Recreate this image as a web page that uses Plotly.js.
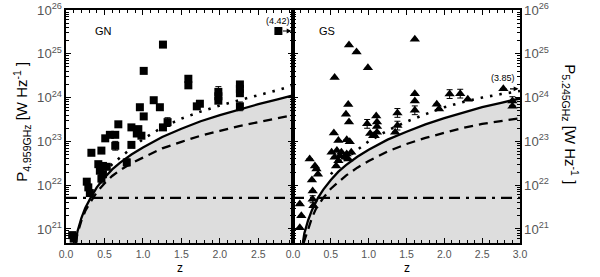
<!DOCTYPE html>
<html><head><meta charset="utf-8">
<script src="https://cdn.plot.ly/plotly-3.0.1.min.js"></script>
<style>html,body{margin:0;padding:0;background:#fff}</style>
</head><body>
<div id="chart" style="width:600px;height:277px"></div>
<script>
// ---- GN (left panel) : redshift z, log10 P [W/Hz], error (dex) ----
const gnZ   = [0.08,0.10,0.27,0.29,0.31,0.33,0.46,0.51,0.57,0.64,0.64,0.68,0.42,0.48,0.53,0.44,0.46,0.48,0.79,0.85,0.85,0.92,0.94,0.98,0.96,1.01,1.01,1.14,1.22,1.26,1.26,1.32,1.59,1.59,1.70,1.74,1.98,1.98,1.98,2.26,2.26,2.26,2.26,2.76];
const gnLog = [20.86,20.78,22.08,21.95,21.82,22.74,22.79,23.07,23.15,23.15,22.90,23.39,22.48,22.44,22.42,22.33,22.15,22.25,22.52,22.92,23.32,23.18,23.28,23.13,23.78,23.57,24.61,23.94,23.78,25.21,23.32,23.44,24.43,24.28,23.80,23.86,24.13,24.03,23.93,24.30,24.20,24.10,23.80,25.52];
const gnErr = [0,0,0,0,0,0,0,0,0,0,0.10,0,0,0,0,0,0.10,0,0.08,0,0,0,0,0,0,0,0,0,0,0,0,0.10,0,0,0,0,0.12,0,0,0,0,0,0.10,0];

// ---- GS (right panel) ----
const gsZ   = [1.61,0.74,0.84,0.99,0.55,2.78,0.73,0.70,0.74,1.61,1.61,1.61,1.38,1.38,1.10,0.98,1.11,1.11,1.11,1.08,1.90,1.93,2.07,2.21,2.31,2.90,2.90,0.54,0.60,0.71,0.75,0.51,0.58,0.64,0.71,0.55,0.62,0.69,0.77,0.60,0.73,0.57,0.22,0.29,0.31,0.33,0.25,0.26,0.26,0.27,0.09,0.11,0.09,1.02,1.06,1.35];
const gsLog = [25.33,25.20,25.04,24.68,24.46,24.20,23.84,23.62,23.44,24.09,23.92,23.71,23.65,23.36,23.58,23.40,23.44,23.34,23.21,23.13,23.85,23.74,24.08,24.09,23.96,23.92,23.80,23.19,23.02,23.04,22.99,22.75,22.79,22.75,22.71,22.64,22.67,22.64,22.75,22.56,22.60,22.44,22.60,22.44,22.37,22.25,22.12,21.87,21.68,21.53,21.57,21.30,21.03,23.18,23.13,23.21];
const gsErr = [0,0,0,0,0,0,0,0,0,0,0,0.10,0.10,0.10,0,0.10,0,0,0,0,0,0,0.10,0.10,0,0.10,0,0,0,0,0,0,0,0,0,0,0,0,0,0,0,0,0,0,0,0,0,0,0.08,0,0,0,0,0,0,0];

// ---- limit curves ----
const solidGNz   = [0.12,0.15,0.2,0.25,0.32,0.4,0.5,0.6,0.7,0.85,1.0,1.25,1.5,1.75,2.0,2.25,2.5,2.75,2.95];
const solidGNlog = [20.68,20.95,21.25,21.48,21.71,21.95,22.17,22.36,22.51,22.70,22.86,23.10,23.29,23.46,23.60,23.73,23.85,23.96,24.05];
const dashGNz    = [0.125,0.15,0.2,0.25,0.32,0.4,0.5,0.6,0.7,0.85,1.0,1.25,1.5,1.75,2.0,2.25,2.5,2.75,2.95];
const dashGNlog  = [20.68,20.90,21.19,21.41,21.62,21.84,22.04,22.21,22.34,22.50,22.63,22.84,22.99,23.13,23.24,23.35,23.44,23.53,23.60];
const dotGNz     = [0.5,0.6,0.75,1.0,1.25,1.5,1.75,2.0,2.25,2.5,2.75,2.95];
const dotGNlog   = [22.28,22.48,22.70,23.05,23.32,23.52,23.68,23.82,23.94,24.05,24.17,24.28];

const solidGSz   = [0.13,0.15,0.2,0.25,0.33,0.4,0.5,0.6,0.7,0.85,1.0,1.25,1.5,1.75,2.0,2.25,2.5,2.75,3.0];
const solidGSlog = [20.68,20.90,21.20,21.43,21.71,21.90,22.12,22.31,22.46,22.65,22.81,23.04,23.22,23.39,23.53,23.66,23.78,23.88,23.98];
const dashGSz    = [0.14,0.2,0.25,0.3,0.4,0.5,0.6,0.7,0.85,1.0,1.25,1.5,1.75,2.0,2.25,2.5,2.75,3.0];
const dashGSlog  = [20.68,21.00,21.25,21.45,21.71,21.92,22.08,22.22,22.40,22.55,22.77,22.94,23.08,23.20,23.31,23.40,23.47,23.53];
const dotGSz     = [0.5,0.6,0.75,1.0,1.25,1.5,1.75,2.0,2.25,2.5,2.75,3.0];
const dotGSlog   = [22.25,22.45,22.68,23.00,23.25,23.45,23.62,23.78,23.90,24.00,24.08,24.15];

const dashDotLog = 21.71;   // horizontal limit
const yRange = [20.68, 26];
const xRangeGN = [0, 2.95];
const xRangeGS = [0, 3.0];
const farZ = {GN: '(4.42)', GS: '(3.85)'};

const P = a => a.map(v => Math.pow(10, v));
const errUp = (l, e) => l.map((v, i) => Math.pow(10, v) * (Math.pow(10, e[i]) - 1));
const errDn = (l, e) => l.map((v, i) => Math.pow(10, v) * (1 - Math.pow(10, -e[i])));

function panel(xa, ya, sZ, sL, dZ, dL, oZ, oL, xr, mZ, mL, mE, sym) {
  const base = Math.pow(10, yRange[0] - 1);
  return [
    {x: [sZ[0], xr[1]], y: [base, base], xaxis: xa, yaxis: ya, mode: 'lines',
     line: {width: 0, color: 'rgba(0,0,0,0)'}, hoverinfo: 'skip', showlegend: false},
    {x: sZ, y: P(sL), xaxis: xa, yaxis: ya, mode: 'lines', fill: 'tonexty',
     fillcolor: '#dddddd', line: {color: '#000', width: 2.3}, showlegend: false},
    {x: dZ, y: P(dL), xaxis: xa, yaxis: ya, mode: 'lines',
     line: {color: '#000', width: 2.3, dash: '9px,6px'}, showlegend: false},
    {x: oZ, y: P(oL), xaxis: xa, yaxis: ya, mode: 'lines',
     line: {color: '#000', width: 2.6, dash: '2.5px,7px'}, showlegend: false},
    {x: [xr[0], xr[1]], y: P([dashDotLog, dashDotLog]), xaxis: xa, yaxis: ya, mode: 'lines',
     line: {color: '#000', width: 2.3, dash: '11px,6px,3px,6px'}, showlegend: false},
    {x: mZ, y: P(mL), xaxis: xa, yaxis: ya, mode: 'markers',
     marker: {symbol: sym, size: sym === 'square' ? 8 : 9, color: '#000', line: {width: 0}},
     error_y: {type: 'data', symmetric: false, array: errUp(mL, mE), arrayminus: errDn(mL, mE),
               color: '#000', thickness: 1, width: 3},
     showlegend: false}
  ];
}

const data = [
  ...panel('x', 'y', solidGNz, solidGNlog, dashGNz, dashGNlog, dotGNz, dotGNlog, xRangeGN, gnZ, gnLog, gnErr, 'square'),
  ...panel('x2', 'y2', solidGSz, solidGSlog, dashGSz, dashGSlog, dotGSz, dotGSlog, xRangeGS, gsZ, gsLog, gsErr, 'triangle-up')
];

const tickFont = {family: 'Liberation Sans, Arial, sans-serif', size: 10.5, color: '#555'};
const xCommon = {
  showgrid: false, zeroline: false, showline: true, linecolor: '#000', linewidth: 2, mirror: 'ticks',
  ticks: 'inside', ticklen: 5, tickwidth: 1, tickcolor: '#000', dtick: 0.5, tick0: 0,
  tickformat: '.1f', tickfont: tickFont,
  minor: {ticks: 'inside', ticklen: 3, tickwidth: 1, tickcolor: '#000', dtick: 0.1, showgrid: false}
};
const yCommon = {
  type: 'log', range: yRange, showgrid: false, zeroline: false, showline: true, linecolor: '#000',
  linewidth: 2, mirror: 'ticks', ticks: 'inside', ticklen: 5, tickwidth: 1, tickcolor: '#000',
  dtick: 1, exponentformat: 'power', tickfont: tickFont,
  minor: {ticks: 'inside', ticklen: 3, tickwidth: 1, tickcolor: '#000', dtick: 'D1', showgrid: false}
};

const fnt = {family: 'Liberation Sans, Arial, sans-serif', color: '#000'};
const ann = (o) => Object.assign({xanchor: 'center', yanchor: 'middle', showarrow: false}, o);
const layout = {
  width: 600, height: 277, margin: {l: 66, r: 80, t: 10, b: 34},
  paper_bgcolor: '#fff', plot_bgcolor: '#fff', showlegend: false,
  xaxis: Object.assign({}, xCommon, {domain: [0, 0.5], range: xRangeGN, anchor: 'y'}),
  xaxis2: Object.assign({}, xCommon, {domain: [0.5, 1], range: xRangeGS, anchor: 'y2'}),
  yaxis: Object.assign({}, yCommon, {anchor: 'x', side: 'left'}),
  yaxis2: Object.assign({}, yCommon, {anchor: 'x2', side: 'right'}),
  annotations: [
    ann({xref: 'paper', yref: 'paper', x: -0.097, y: 0.52, textangle: -90,
     text: 'P<sub>4.959GHz</sub> [W Hz<sup>-1</sup> ]', font: Object.assign({size: 15}, fnt)}),
    ann({xref: 'paper', yref: 'paper', x: 1.112, y: 0.51, textangle: 90,
     text: 'P<sub>5.245GHz</sub> [W Hz<sup>-1</sup> ]', font: Object.assign({size: 15}, fnt)}),
    ann({xref: 'paper', yref: 'paper', x: 0.251, y: -0.107, text: 'z', font: Object.assign({size: 12}, fnt)}),
    ann({xref: 'paper', yref: 'paper', x: 0.751, y: -0.107, text: 'z', font: Object.assign({size: 12}, fnt)}),
    ann({xref: 'paper', yref: 'paper', x: 0.0815, y: 0.91, text: 'GN', font: Object.assign({size: 11}, fnt)}),
    ann({xref: 'paper', yref: 'paper', x: 0.575, y: 0.91, text: 'GS', font: Object.assign({size: 11}, fnt)}),
    ann({xref: 'x', yref: 'y', x: 2.76, y: 25.75, text: farZ.GN, font: Object.assign({size: 9}, fnt)}),
    ann({xref: 'x2', yref: 'y2', x: 2.78, y: 24.45, text: farZ.GS, font: Object.assign({size: 9}, fnt)}),
    {xref: 'x', yref: 'y', x: 2.93, y: 25.52, ax: -10, ay: 0, showarrow: true, text: '',
     arrowhead: 2, arrowsize: 0.8, arrowwidth: 1.2, arrowcolor: '#000'},
    {xref: 'x2', yref: 'y2', x: 2.98, y: 24.20, ax: -10, ay: 0, showarrow: true, text: '',
     arrowhead: 2, arrowsize: 0.8, arrowwidth: 1.2, arrowcolor: '#000'}
  ]
};

Plotly.newPlot('chart', data, layout, {staticPlot: true, displayModeBar: false});
</script>
</body></html>
